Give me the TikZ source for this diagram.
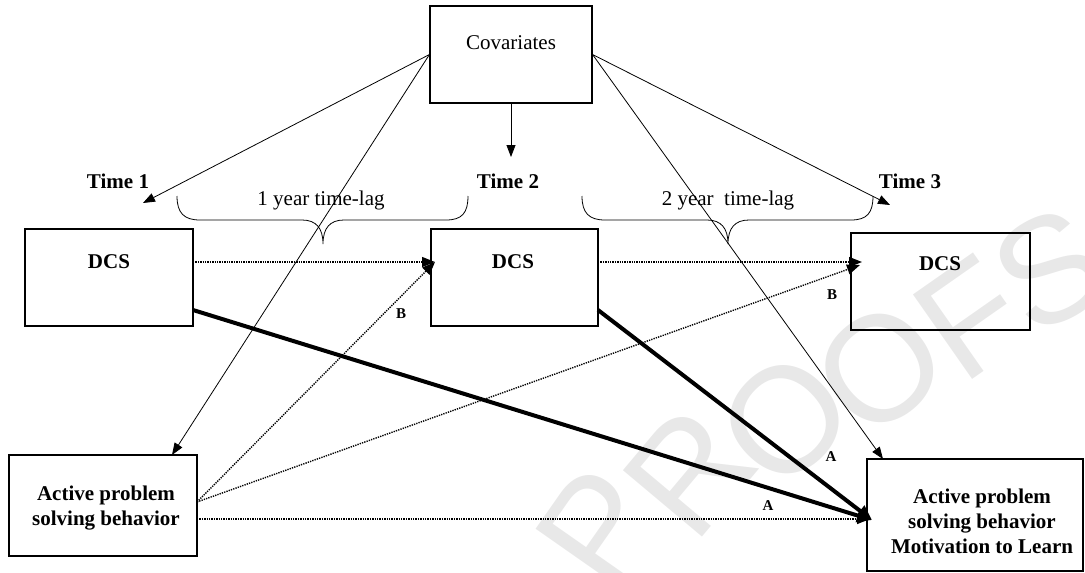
\documentclass[tikz,border=0pt]{standalone}
\usepackage{fontspec}
\setmainfont{Liberation Serif}
\newfontfamily\wmfont{Liberation Sans}
\usetikzlibrary{arrows.meta}
\begin{document}
\begin{tikzpicture}[x=1pt,y=-1pt,
  box/.style={draw, line width=1.1pt, inner sep=0pt},
  txt/.style={font=\fontsize{21}{25}\selectfont, align=center, inner sep=0pt},
  btxt/.style={font=\fontsize{21}{25}\selectfont\bfseries, align=center, inner sep=0pt},
  small/.style={font=\fontsize{15}{18}\selectfont\bfseries, inner sep=0pt},
  wm/.style={font=\wmfont\fontsize{150}{150}\selectfont, text=black!9, inner sep=0pt},
  thinarr/.style={line width=0.8pt, -{Triangle[length=12pt,width=9pt]}},
  dotarr/.style={line width=1.4pt, dash pattern=on 1.3pt off 1.1pt, -{Triangle[length=13pt,width=10pt]}},
  boldarr/.style={line width=4pt, -{Triangle[length=15pt,width=13pt]}},
  bracestyle/.style={line width=0.8pt}]
\useasboundingbox (0,0) rectangle (1085,573);
% watermark
\node[wm, rotate=55] (w1) at (600,528) {P};
\node[wm, rotate=50] (w2) at (690,472) {R};
\node[wm, rotate=45] (w3) at (785,420) {O};
\node[wm, rotate=40] (w4) at (880,368) {O};
\node[wm, rotate=35] (w5) at (970,318) {F};
\node[wm, rotate=30] (w6) at (1050,270) {S};
% boxes
\node[box, minimum width=162pt, minimum height=97pt] (cov) at (511,54.5) {};
\node[txt] (covt) at (511,43) {Covariates};
\node[box, minimum width=168pt, minimum height=97pt] (d1) at (109,277.5) {};
\node[btxt] (d1t) at (109,262) {DCS};
\node[box, minimum width=167pt, minimum height=97pt] (d2) at (514.5,277.5) {};
\node[btxt] (d2t) at (513,262) {DCS};
\node[box, minimum width=179pt, minimum height=97pt] (d3) at (940.5,281.5) {};
\node[btxt] (d3t) at (940,264) {DCS};
\node[box, minimum width=188pt, minimum height=101pt] (ap) at (103,505.5) {};
\node[btxt] (apt) at (106,508) {Active problem\\solving behavior};
\node[box, minimum width=216pt, minimum height=112pt] (out) at (975,515) {};
\node[btxt] (outt) at (982,521) {Active problem\\solving behavior\\Motivation to Learn};
% time labels
\node[btxt] (t1) at (118,181) {Time 1};
\node[btxt] (t2) at (508,181) {Time 2};
\node[btxt] (t3) at (910,181) {Time 3};
\node[txt] (lag1) at (321,200) {1 year time-lag};
\node[txt] (lag2) at (728,200) {2 year\ \ time-lag};
% braces
\draw[bracestyle] (177,196) .. controls (177,213) and (184,220) .. (200,220) -- (302,220)
  .. controls (316,220) and (323,228) .. (323,244)
  .. controls (323,228) and (330,220) .. (344,220) -- (446,220)
  .. controls (462,220) and (468,213) .. (468,196);
\draw[bracestyle] (582,196) .. controls (582,213) and (589,220) .. (605,220) -- (707,220)
  .. controls (721,220) and (728,228) .. (728,244)
  .. controls (728,228) and (735,220) .. (749,220) -- (851,220)
  .. controls (867,220) and (873,213) .. (873,196);
% coordinates
\coordinate (c1) at (143,203);
\coordinate (c2) at (511,157);
\coordinate (c3) at (890,205);
\coordinate (apin) at (172,455);
\coordinate (outin) at (883,459);
\coordinate (d1o) at (193,262);
\coordinate (d2i) at (435,262);
\coordinate (d2o) at (598,262);
\coordinate (d3i) at (862,262);
\coordinate (d3i2) at (860,265);
\coordinate (apo1) at (197,502);
\coordinate (apo2) at (197,519);
\coordinate (outa) at (872,520);
\coordinate (outd) at (870,519);
\coordinate (d1b) at (193,310);
\coordinate (d2b) at (598,310);
% covariate arrows
\draw[thinarr] (cov.west) -- (c1);
\draw[thinarr] (cov.west) -- (apin);
\draw[thinarr] (cov.south) -- (c2);
\draw[thinarr] (cov.east) -- (c3);
\draw[thinarr] (cov.east) -- (outin);
% dotted arrows
\draw[dotarr] (d1o) -- (d2i);
\draw[dotarr] (d2o) -- (d3i);
\draw[dotarr] (apo1) -- (d2i);
\draw[dotarr] (apo1) -- (d3i2);
\draw[dotarr] (apo2) -- (outd);
% bold arrows
\draw[boldarr] (d1b) -- (outa);
\draw[boldarr] (d2b) -- (outa);
% small labels
\node[small] (b1) at (401,314) {B};
\node[small] (b2) at (832,295) {B};
\node[small] (a1) at (831,457) {A};
\node[small] (a2) at (768,506) {A};
\end{tikzpicture}
\end{document}
